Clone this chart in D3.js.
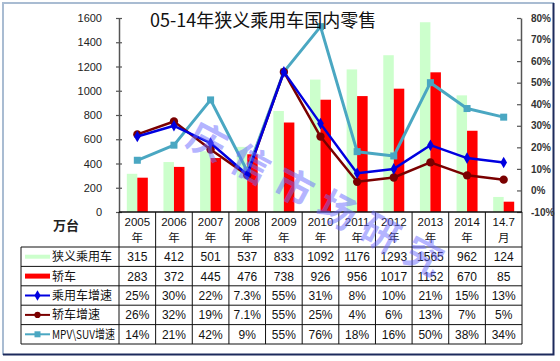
<!DOCTYPE html>
<html>
<head>
<meta charset="utf-8">
<script src="https://cdn.jsdelivr.net/npm/d3@7"></script>
<style>
  body { margin: 0; background: #fff; }
  svg { display: block; }
  text { font-family: "Liberation Sans", Arial, "Noto Sans CJK SC", sans-serif; }
  .cjk { font-family: "Noto Sans CJK SC", sans-serif; }
</style>
</head>
<body>
<svg id="chart" width="560" height="361"></svg>
<script>
// data
const years = ["2005", "2006", "2007", "2008", "2009", "2010", "2011", "2012", "2013", "2014", "14.7"];
const units = ["年", "年", "年", "年", "年", "年", "年", "年", "年", "年", "月"];
const retail = [315, 412, 501, 537, 833, 1092, 1176, 1293, 1565, 962, 124];
const sedan = [283, 372, 445, 476, 738, 926, 956, 1017, 1152, 670, 85];
const retailGrowth = [25, 30, 22, 7.3, 55, 31, 8, 10, 21, 15, 13];
const sedanGrowth = [26, 32, 19, 7.1, 55, 25, 4, 6, 13, 7, 5];
const mpvSuvGrowth = [14, 21, 42, 9, 55, 76, 18, 16, 50, 38, 34];
const leftTicks = [0, 200, 400, 600, 800, 1000, 1200, 1400, 1600];
const rightTicks = [-10, 0, 10, 20, 30, 40, 50, 60, 70, 80];

const svg = d3.select("#chart");

// frame
svg.append("path").attr("d", "M3,355V3H554").attr("fill", "none")
  .attr("stroke", "#a9bcd2").attr("stroke-width", 2);
svg.append("path").attr("d", "M3,354.5H553.5V3").attr("fill", "none")
  .attr("stroke", "#1c2a5c").attr("stroke-width", 2);

// scales
const x = d3.scaleBand().domain(years).range([119, 522]);
const y = d3.scaleLinear().domain([0, 1600]).range([212, 18]);
const y2 = d3.scaleLinear().domain([-10, 80]).range([212, 18]);
const bw = 10.5;
const cx = (d, i) => x(years[i]) + x.bandwidth() / 2;

// bars
svg.append("g").selectAll("rect").data(retail).enter().append("rect")
  .attr("x", (d, i) => cx(d, i) - bw)
  .attr("y", d => y(d))
  .attr("width", bw)
  .attr("height", d => y(0) - y(d))
  .attr("fill", "#ccffcc");
svg.append("g").selectAll("rect").data(sedan).enter().append("rect")
  .attr("x", (d, i) => cx(d, i))
  .attr("y", d => y(d))
  .attr("width", bw)
  .attr("height", d => y(0) - y(d))
  .attr("fill", "#ff0000");

// axes
const leftAxis = svg.append("g").attr("transform", "translate(119,0)")
  .call(d3.axisLeft(y).tickValues(leftTicks).tickFormat(d3.format("d"))
    .tickSizeInner(3).tickSizeOuter(0).tickPadding(14));
leftAxis.selectAll("line").attr("x1", 3);
const rightAxis = svg.append("g").attr("transform", "translate(521,0)")
  .call(d3.axisRight(y2).tickValues(rightTicks).tickSizeInner(-4).tickSizeOuter(0).tickPadding(10)
    .tickFormat(d => d + "%"));
[leftAxis, rightAxis].forEach(a => {
  a.select(".domain").attr("stroke", "#555").attr("stroke-width", 1.5);
  a.selectAll("line").attr("stroke", "#555").attr("stroke-width", 1.2);
});
leftAxis.selectAll("text").attr("font-size", 11).attr("fill", "#222")
  .style("font-family", "'Liberation Sans', Arial");
rightAxis.selectAll("text").attr("font-size", 10).attr("font-weight", "bold").attr("fill", "#333")
  .style("font-family", "'Liberation Sans', Arial");

// lines
const series = [
  { name: "乘用车增速", values: retailGrowth, color: "#0000e0", marker: "diamond" },
  { name: "轿车增速", values: sedanGrowth, color: "#7a0000", marker: "circle" },
  { name: "MPV\\SUV增速", values: mpvSuvGrowth, color: "#4aa7c2", marker: "square" }
];
const line = d3.line().x((d, i) => cx(d, i)).y(d => y2(d));
function marker(g, type, color, px, py, s) {
  if (type === "diamond") {
    g.append("path").attr("d", d3.symbol(d3.symbolDiamond, s * 5.5)())
      .attr("transform", `translate(${px},${py})`).attr("fill", color);
  } else if (type === "circle") {
    g.append("circle").attr("cx", px).attr("cy", py).attr("r", s * 0.52).attr("fill", color);
  } else {
    g.append("rect").attr("x", px - s / 2).attr("y", py - s / 2).attr("width", s).attr("height", s)
      .attr("fill", color);
  }
}
// draw MPV first so growth lines are on top
[series[2], series[1], series[0]].forEach(s => {
  const g = svg.append("g");
  g.append("path").datum(s.values).attr("d", line).attr("fill", "none")
    .attr("stroke", s.color).attr("stroke-width", s.marker === "square" ? 3 : 2.5)
    .attr("stroke-linejoin", "round");
  s.values.forEach((v, i) => marker(g, s.marker, s.color, cx(v, i), y2(v), s.marker === "circle" ? 8 : 7));
});

// title
svg.append("text").attr("class", "cjk").attr("x", 150).attr("y", 27)
  .attr("font-size", 18).attr("fill", "#111").text("05-14年狭义乘用车国内零售");

// data table
const rowTops = [247, 266.4, 285.8, 305.2, 324.6, 344];
const tbl = svg.append("g").attr("stroke", "#111").attr("stroke-width", 1);
rowTops.forEach(ry => tbl.append("line").attr("x1", 21).attr("x2", 522).attr("y1", ry).attr("y2", ry));
tbl.append("line").attr("x1", 119).attr("x2", 522).attr("y1", 212).attr("y2", 212).attr("stroke-width", 1.5);
tbl.append("line").attr("x1", 21).attr("x2", 21).attr("y1", 247).attr("y2", 344);
years.forEach(c => tbl.append("line").attr("x1", x(c)).attr("x2", x(c)).attr("y1", 212).attr("y2", 344));
tbl.append("line").attr("x1", 522).attr("x2", 522).attr("y1", 212).attr("y2", 344);

svg.append("text").attr("class", "cjk").attr("x", 66).attr("y", 230).attr("text-anchor", "middle")
  .attr("font-size", 13).attr("font-weight", "bold").attr("fill", "#222").text("万台");

const head = svg.append("g").attr("text-anchor", "middle").attr("font-size", 11.5).attr("fill", "#111");
years.forEach((c, i) => {
  const px = x(c) + x.bandwidth() / 2;
  head.append("text").attr("x", px).attr("y", 226).text(c);
  head.append("text").attr("class", "cjk").attr("x", px).attr("y", 242).text(units[i]);
});

const pct = v => v + "%";
const rows = [
  { name: "狭义乘用车", values: retail, fmt: String, color: "#ccffcc", marker: null, w: 4 },
  { name: "轿车", values: sedan, fmt: String, color: "#ff0000", marker: null, w: 5 },
  { name: series[0].name, values: retailGrowth, fmt: pct, color: series[0].color, marker: "diamond", w: 2 },
  { name: series[1].name, values: sedanGrowth, fmt: pct, color: series[1].color, marker: "circle", w: 2 },
  { name: series[2].name, values: mpvSuvGrowth, fmt: pct, color: series[2].color, marker: "square", w: 2 }
];
rows.forEach((r, k) => {
  const my = (rowTops[k] + rowTops[k + 1]) / 2;
  const g = svg.append("g");
  g.append("line").attr("x1", 25).attr("x2", 50).attr("y1", my).attr("y2", my)
    .attr("stroke", r.color).attr("stroke-width", r.w);
  if (r.marker) marker(g, r.marker, r.color, 37.5, my, 6);
  const t = g.append("text").attr("class", "cjk").attr("x", 52).attr("y", my + 4.5)
    .attr("font-size", 12).attr("fill", "#111").text(r.name);
  if (k === 4) t.attr("textLength", 63).attr("lengthAdjust", "spacingAndGlyphs");
  r.values.forEach((v, i) => {
    g.append("text").attr("x", x(years[i]) + x.bandwidth() / 2).attr("y", my + 4.5)
      .attr("text-anchor", "middle").attr("font-size", 12).attr("fill", "#111").text(r.fmt(v));
  });
});

// watermark
svg.append("text").attr("class", "cjk")
  .attr("transform", "translate(192,130) rotate(28)")
  .attr("font-size", 38).attr("font-weight", "bold").attr("letter-spacing", 11)
  .attr("dominant-baseline", "central")
  .attr("fill", "#6a6aff").attr("fill-opacity", 0.5)
  .text("庆信市场研究");
</script>
</body>
</html>
